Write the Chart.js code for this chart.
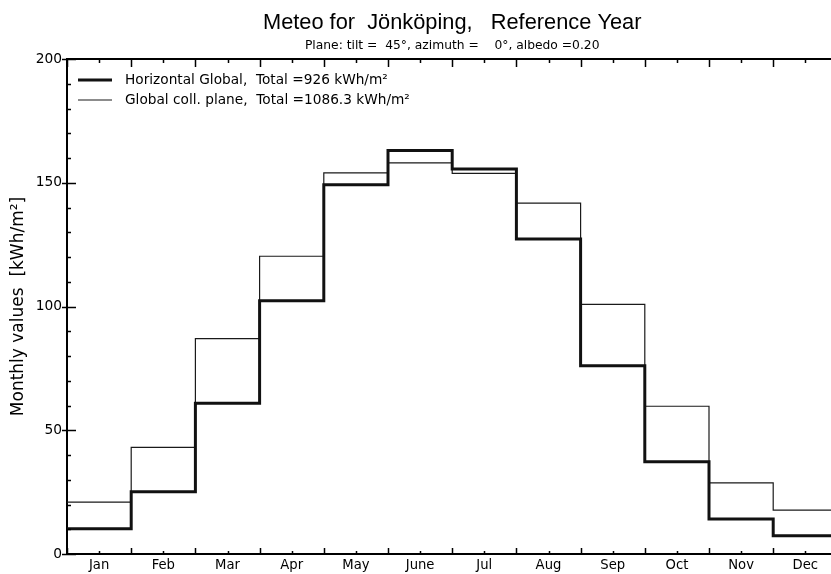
<!DOCTYPE html>
<html>
<head>
<meta charset="utf-8">
<script src="https://cdn.jsdelivr.net/npm/chart.js@4.4.1/dist/chart.umd.min.js"></script>
<style>
  html, body { margin: 0; padding: 0; background: #fff; overflow: hidden; }
  #wrap { width: 840px; height: 574px; }
</style>
</head>
<body>
<div id="wrap"><canvas id="myChart"></canvas></div>
<script>
const months = ['Jan', 'Feb', 'Mar', 'Apr', 'May', 'June', 'Jul', 'Aug', 'Sep', 'Oct', 'Nov', 'Dec'];
const horizontalGlobal = [10.2, 25.2, 60.9, 102.3, 149.2, 163, 155.6, 127.3, 76.1, 37.3, 14.1, 7.4];
const globalCollPlane = [21, 43.1, 87, 120.3, 154, 158, 153.8, 141.8, 100.9, 59.7, 28.7, 17.7];
const yTicks = [0, 50, 100, 150, 200];

// step line: each month value held from month start to month end
function steps(vals) {
  const pts = vals.map((v, i) => ({ x: i, y: v }));
  pts.push({ x: vals.length, y: vals[vals.length - 1] });
  return pts;
}

const ctx = document.getElementById('myChart').getContext('2d');
const sans = 'DejaVu Sans';

// inward ticks + top frame line, like the original plot
const frame = {
  id: 'frame',
  afterDatasetsDraw(chart) {
    const { ctx, chartArea: a, scales: { x, y } } = chart;
    ctx.save();
    ctx.strokeStyle = '#000';
    ctx.lineWidth = 1.5;
    ctx.beginPath();
    for (let i = 0; i <= months.length; i++) {
      const px = Math.round(x.getPixelForValue(i)) + 0.5;
      ctx.moveTo(px, a.bottom); ctx.lineTo(px, a.bottom - 6);
      ctx.moveTo(px, a.top); ctx.lineTo(px, a.top + 8);
    }
    for (let i = 0; i < months.length; i++) {
      const px = Math.round(x.getPixelForValue(i + 0.5)) + 0.5;
      ctx.moveTo(px, a.bottom); ctx.lineTo(px, a.bottom - 3);
      ctx.moveTo(px, a.top); ctx.lineTo(px, a.top + 4);
    }
    for (let v = 0; v <= 200; v += 10) {
      const py = Math.round(y.getPixelForValue(v)) + 0.5;
      if (v % 50 === 0) { ctx.moveTo(a.left - 5, py); ctx.lineTo(a.left + 9, py); }
      else { ctx.moveTo(a.left, py); ctx.lineTo(a.left + 4, py); }
    }
    ctx.stroke();
    ctx.lineWidth = 2;
    ctx.beginPath();
    ctx.moveTo(a.left, a.top); ctx.lineTo(a.right, a.top);
    ctx.stroke();

    // legend inside plot, top left
    ctx.font = '13.7px "' + sans + '"';
    ctx.textBaseline = 'middle';
    ctx.fillStyle = '#000';
    chart.data.datasets.forEach((ds, i) => {
      const ly = a.top + 21 + i * 20;
      ctx.lineWidth = ds.borderWidth;
      ctx.strokeStyle = ds.borderColor;
      ctx.beginPath();
      ctx.moveTo(a.left + 11, ly); ctx.lineTo(a.left + 45, ly);
      ctx.stroke();
      ctx.fillText(ds.label, a.left + 58, ly);
    });
    ctx.restore();
  }
};

new Chart(ctx, {
  type: 'line',
  data: {
    datasets: [{
      label: 'Horizontal Global,  Total =926 kWh/m²',
      data: steps(horizontalGlobal),
      borderColor: '#111',
      borderWidth: 3,
      stepped: true,
      pointRadius: 0,
      fill: false
    }, {
      label: 'Global coll. plane,  Total =1086.3 kWh/m²',
      data: steps(globalCollPlane),
      borderColor: '#1a1a1a',
      borderWidth: 1.2,
      stepped: true,
      pointRadius: 0,
      fill: false
    }]
  },
  options: {
    responsive: true,
    maintainAspectRatio: false,
    animation: false,
    events: [],
    layout: { padding: { left: 0, right: 2.6, top: 0, bottom: 0 } },
    plugins: {
      legend: { display: false },
      tooltip: { enabled: false },
      title: {
        display: true,
        fullSize: false,
        text: 'Meteo for  Jönköping,   Reference Year',
        color: '#000',
        font: { family: 'Liberation Sans', size: 21.8, weight: 'normal' },
        padding: { top: 10, bottom: 2.6 }
      },
      subtitle: {
        display: true,
        fullSize: false,
        text: 'Plane: tilt =  45°, azimuth =    0°, albedo =0.20',
        color: '#000',
        font: { family: sans, size: 12.3 },
        padding: { top: 0, bottom: 5.5 }
      }
    },
    scales: {
      x: {
        type: 'linear',
        min: 0,
        max: 12,
        grid: { display: false, drawTicks: false },
        border: { display: true, color: '#000', width: 2 },
        afterBuildTicks(scale) {
          scale.ticks = months.map((m, i) => ({ value: i + 0.5 }));
        },
        afterFit(scale) { scale.height = 20; },
        ticks: {
          autoSkip: false,
          maxRotation: 0,
          padding: 4,
          color: '#000',
          font: { family: sans, size: 13.2 },
          callback: (value, index) => months[index]
        }
      },
      y: {
        min: 0,
        max: 200,
        grid: { display: false, drawTicks: false },
        border: { display: true, color: '#000', width: 2 },
        afterBuildTicks(scale) {
          scale.ticks = yTicks.map(v => ({ value: v }));
        },
        afterFit(scale) { scale.width = 67; },
        ticks: {
          padding: 5,
          color: '#000',
          font: { family: sans, size: 13.8 }
        },
        title: {
          display: true,
          text: 'Monthly values  [kWh/m²]',
          color: '#000',
          font: { family: sans, size: 17 },
          padding: { top: 8, bottom: 0 }
        }
      }
    }
  },
  plugins: [frame]
});
</script>
</body>
</html>
